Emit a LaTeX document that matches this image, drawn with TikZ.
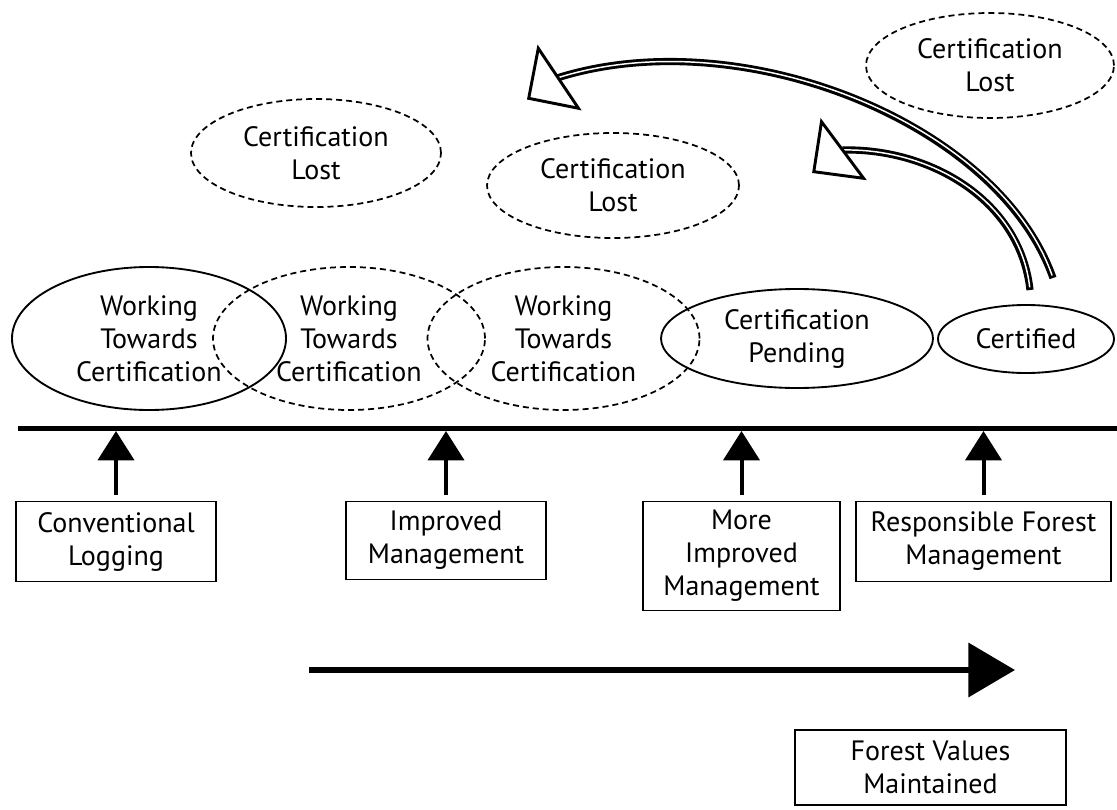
\documentclass[tikz,border=0pt]{standalone}
\usepackage{fontspec}
\setmainfont{PT Sans}
\usetikzlibrary{arrows.meta,shapes.geometric}
\begin{document}
\begin{tikzpicture}[x=0.75pt,y=-0.75pt,
  txt/.style={font=\fontsize{21}{24.75}\selectfont, align=center, inner sep=0pt},
  solidell/.style={txt, ellipse, draw, line width=1.4pt},
  dashell/.style={txt, ellipse, draw, line width=1.3pt, dash pattern=on 4.5pt off 3pt},
  stagebox/.style={txt, rectangle, draw, line width=1.3pt},
  uparrow/.style={line width=3pt, -{Triangle[width=27pt,length=22pt]}},
  bigarrow/.style={line width=4.5pt, -{Triangle[width=40pt,length=35pt]}},
  dblouter/.style={line width=5.4pt},
  dblinner/.style={line width=1.1pt, white, shorten <=2pt},
  openhead/.style={line width=2.2pt, fill=white, line join=miter},
  timeline/.style={line width=3.75pt}
]
\useasboundingbox (0,0) rectangle (1117,810);

% stage ellipses
\node[solidell, minimum width=205.5pt, minimum height=107.25pt] (w1) at (149,338.5) {Working\\Towards\\Certification};
\node[dashell, minimum width=204pt, minimum height=107.25pt] (w2) at (349,338.5) {Working\\Towards\\Certification};
\node[dashell, minimum width=204pt, minimum height=107.25pt] (w3) at (563.5,338.5) {Working\\Towards\\Certification};
\node[solidell, minimum width=204pt, minimum height=74.25pt] (pend) at (797,338.5) {Certification\\Pending};
\node[solidell, minimum width=132pt, minimum height=51pt] (cert) at (1026,339) {Certified};

% certification lost ellipses
\node[dashell, minimum width=187.5pt, minimum height=81pt] (lost1) at (316,153) {Certification\\Lost};
\node[dashell, minimum width=189pt, minimum height=78.75pt] (lost2) at (613,185.5) {Certification\\Lost};
\node[dashell, minimum width=186pt, minimum height=78.75pt] (lost3) at (990,65.5) {Certification\\Lost};

% timeline
\coordinate (tlL) at (18,428.5);
\coordinate (tlR) at (1117,428.5);
\coordinate (tlB) at (0,431);
\draw[timeline] (tlL) -- (tlR);

% management boxes
\node[stagebox, minimum width=150pt, minimum height=60pt] (conv) at (116,541.5) {Conventional\\Logging};
\node[stagebox, minimum width=150pt, minimum height=58.5pt] (imp) at (446,540.5) {Improved\\Management};
\node[stagebox, minimum width=147.75pt, minimum height=81.75pt] (more) at (741.5,556) {More\\Improved\\Management};
\node[stagebox, minimum width=191.25pt, minimum height=60pt] (resp) at (983.5,541.5) {Responsible Forest\\Management};
\node[stagebox, minimum width=203.25pt, minimum height=56.25pt] (fvm) at (930.5,767.5) {Forest Values\\Maintained};

% up arrows
\foreach \b in {conv,imp,more,resp}{
  \draw[uparrow] ([yshift=4pt]\b.north) -- (\b.north |- tlB);
}

% big horizontal arrow
\coordinate (bigA) at (309,670);
\coordinate (bigB) at (1015,670);
\draw[bigarrow] (bigA) -- (bigB);

% curved double arrows
\coordinate (c1s) at (1053,278);
\coordinate (c1e) at (557,78);
\coordinate (c2s) at (1030,290);
\coordinate (c2e) at (842.5,150);
\draw[dblouter] (c1s) .. controls (998,122) and (740,20) .. (c1e);
\draw[dblinner] (c1s) .. controls (998,122) and (740,20) .. (c1e);
\draw[dblouter] (c2s) .. controls (1020,200) and (930,148) .. (c2e);
\draw[dblinner] (c2s) .. controls (1020,200) and (930,148) .. (c2e);

\coordinate (h1a) at (538.3,48.3);
\coordinate (h1t) at (528.7,98.3);
\coordinate (h1b) at (578.5,108.3);
\draw[openhead] (h1a) -- (h1t) -- (h1b) -- cycle;
\coordinate (h2a) at (821.5,121.7);
\coordinate (h2t) at (813.8,171.7);
\coordinate (h2b) at (863.6,178.3);
\draw[openhead] (h2a) -- (h2t) -- (h2b) -- cycle;
\end{tikzpicture}
\end{document}
